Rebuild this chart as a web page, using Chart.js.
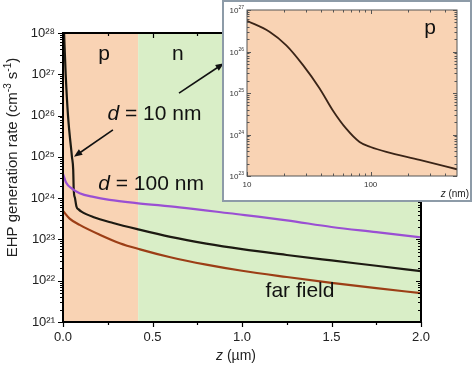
<!DOCTYPE html>
<html>
<head>
<meta charset="utf-8">
<script src="https://cdn.jsdelivr.net/npm/chart.js@4/dist/chart.umd.min.js"></script>
<style>
  html, body { margin: 0; padding: 0; background: #fff; }
  #wrap { position: relative; width: 474px; height: 365px; }
  #main { position: absolute; left: 0; top: 0; }
  #insetBox {
    position: absolute; left: 222px; top: 0; width: 246px; height: 198px;
    border: 2px solid #8d9ba8; background: #fff;
  }
  #inset { display: block; }
</style>
</head>
<body>
<div id="wrap">
  <canvas id="main" width="474" height="365"></canvas>
  <div id="insetBox"><canvas id="inset" width="246" height="198"></canvas></div>
</div>
<script>
/* ---------- data ---------- */
// main panel, z in µm, rate in cm^-3 s^-1
const zD10    = [0.006, 0.015, 0.028, 0.05, 0.057, 0.06, 0.067, 0.075, 0.09, 0.103, 0.168, 0.28, 0.42, 0.6, 0.8, 1.0, 1.25, 1.5, 1.75, 2.0];
const rateD10 = [1e28, 1e27, 1e26, 1e25, 4.9e24, 1.6e24, 1e24, 6.3e23, 5.2e23, 4.7e23, 3.5e23, 2.5e23, 1.75e23, 1.15e23, 7.9e22, 5.8e22, 4.2e22, 3.1e22, 2.3e22, 1.7e22];

const zD100    = [0, 0.017, 0.05, 0.093, 0.17, 0.26, 0.41, 0.65, 0.93, 1.25, 1.5, 1.75, 2.0];
const rateD100 = [3.9e24, 2.4e24, 1.7e24, 1.32e24, 1.07e24, 9.1e23, 7.6e23, 6.0e23, 4.3e23, 2.9e23, 2.0e23, 1.5e23, 1.12e23];

const zFar    = [0, 0.037, 0.093, 0.205, 0.317, 0.43, 0.6, 0.8, 1.0, 1.25, 1.5, 1.75, 2.0];
const rateFar = [4.9e23, 3.2e23, 2.25e23, 1.3e23, 8.1e22, 5.75e22, 3.7e22, 2.45e22, 1.74e22, 1.23e22, 8.9e21, 6.6e21, 5.0e21];

// p / n layers (µm)
const layerEdges = [0, 0.42, 2.0];
const layerNames = ['p', 'n'];

// axis ticks
const xTicks = [0, 0.5, 1.0, 1.5, 2.0];
const xMinor = [0.25, 0.75, 1.25, 1.75];
const yExp   = [21, 22, 23, 24, 25, 26, 27, 28];

// inset, z in nm (d = 10 nm)
const zInset    = [10, 15.2, 20.8, 28.4, 38.7, 49.5, 63.5, 81.4, 100, 134, 249, 500];
const rateInset = [5.5e26, 3.0e26, 1.41e26, 4.7e25, 1.29e25, 3.8e24, 1.38e24, 6.6e23, 5.0e23, 3.8e23, 2.45e23, 1.45e23];
const insetXTicks = [10, 100];
const insetXMinor = [20, 30, 40, 50, 60, 70, 80, 90, 200, 300, 400];
const insetYExp   = [23, 24, 25, 26, 27];

/* ---------- styles ---------- */
const FONT = "'Liberation Sans', Arial, sans-serif";
const PEACH = '#f9d3b4';
const GREEN = '#d9eec7';
const C_D10 = '#1d1a12';
const C_D100 = '#9a4fd3';
const C_FAR = '#9c3e16';
const C_INSET = '#3a2417';
const SUP = '⁰¹²³⁴⁵⁶⁷⁸⁹';

const pts = (xs, ys) => xs.map((v, i) => ({ x: v, y: ys[i] }));
const supNum = n => String(n).split('').map(c => SUP[+c]).join('');
const minorDecades = exps => {
  const out = [];
  for (let i = 0; i < exps.length - 1; i++)
    for (let k = 2; k <= 9; k++) out.push(k * Math.pow(10, exps[i]));
  return out;
};

function drawRich(ctx, parts, x, y, align) {
  let w = 0;
  parts.forEach(p => { ctx.font = p.font; w += ctx.measureText(p.text).width; });
  let cx = align === 'center' ? x - w / 2 : align === 'right' ? x - w : x;
  ctx.textAlign = 'left';
  ctx.textBaseline = 'alphabetic';
  parts.forEach(p => {
    ctx.font = p.font;
    ctx.fillText(p.text, cx, y + (p.dy || 0));
    cx += ctx.measureText(p.text).width;
  });
}

function arrow(ctx, x1, y1, x2, y2, head) {
  const a = Math.atan2(y2 - y1, x2 - x1);
  ctx.beginPath();
  ctx.moveTo(x1, y1);
  ctx.lineTo(x2 - Math.cos(a) * head * 0.8, y2 - Math.sin(a) * head * 0.8);
  ctx.stroke();
  ctx.beginPath();
  ctx.moveTo(x2, y2);
  ctx.lineTo(x2 - head * Math.cos(a - 0.38), y2 - head * Math.sin(a - 0.38));
  ctx.lineTo(x2 - head * Math.cos(a + 0.38), y2 - head * Math.sin(a + 0.38));
  ctx.closePath();
  ctx.fill();
}

/* ---------- plugins ---------- */
const regionsPlugin = {
  id: 'regions',
  beforeDatasetsDraw(chart, args, o) {
    const { ctx, chartArea: a, scales: { x } } = chart;
    ctx.save();
    o.edges.slice(0, -1).forEach((e, i) => {
      const x1 = x.getPixelForValue(e), x2 = x.getPixelForValue(o.edges[i + 1]);
      ctx.fillStyle = o.colors[i];
      ctx.fillRect(x1, a.top, x2 - x1, a.bottom - a.top);
    });
    ctx.restore();
  }
};

const framePlugin = {
  id: 'frame',
  afterDatasetsDraw(chart, args, o) {
    const { ctx, chartArea: a, scales: { x, y } } = chart;
    ctx.save();
    ctx.strokeStyle = o.color;
    ctx.lineWidth = o.tickWidth;
    const bd = o.outBottom ? 1 : -1, ld = o.outLeft ? -1 : 1;
    const xt = (v, len) => {
      const px = Math.round(x.getPixelForValue(v)) + 0.5;
      ctx.beginPath();
      ctx.moveTo(px, a.bottom); ctx.lineTo(px, a.bottom + bd * len);
      ctx.moveTo(px, a.top); ctx.lineTo(px, a.top + len);
      ctx.stroke();
    };
    const yt = (v, len) => {
      const py = Math.round(y.getPixelForValue(v)) + 0.5;
      ctx.beginPath();
      ctx.moveTo(a.left, py); ctx.lineTo(a.left + ld * len, py);
      ctx.moveTo(a.right, py); ctx.lineTo(a.right - len, py);
      ctx.stroke();
    };
    o.xMajor.forEach(v => xt(v, o.major));
    o.xMinor.forEach(v => xt(v, o.minor));
    o.yMajor.forEach(v => yt(v, o.major));
    o.yMinor.forEach(v => yt(v, o.minor));
    ctx.lineWidth = o.axisWidth;
    ctx.strokeRect(a.left, a.top, a.right - a.left, a.bottom - a.top);
    // optional hand-set log tick labels with small exponent
    if (o.yLabels) {
      ctx.fillStyle = o.yLabels.color;
      o.yMajor.forEach(v => {
        const e = Math.round(Math.log10(v));
        drawRich(ctx, [
          { text: '10', font: o.yLabels.font },
          { text: String(e), font: o.yLabels.supFont, dy: -o.yLabels.rise }
        ], a.left - o.yLabels.pad, y.getPixelForValue(v) + o.yLabels.drop, 'right');
      });
    }
    ctx.restore();
  }
};

const notesPlugin = {
  id: 'notes',
  afterDraw(chart, args, o) {
    const { ctx, chartArea: a, scales: { x, y } } = chart;
    ctx.save();
    ctx.fillStyle = '#111';
    ctx.strokeStyle = '#111';
    (o.texts || []).forEach(t => {
      drawRich(ctx, t.parts, x.getPixelForValue(t.x), y.getPixelForValue(t.y), 'center');
    });
    ctx.lineWidth = 1.6;
    (o.arrows || []).forEach(r => {
      arrow(ctx, x.getPixelForValue(r[0]), y.getPixelForValue(r[1]),
                 x.getPixelForValue(r[2]), y.getPixelForValue(r[3]), 9);
    });
    ctx.fillStyle = '#222';
    if (o.yTitle) {
      ctx.translate(o.yTitle.x, (a.top + a.bottom) / 2 + o.yTitle.dy);
      ctx.rotate(-Math.PI / 2);
      drawRich(ctx, o.yTitle.parts, 0, 0, 'center');
      ctx.setTransform(1, 0, 0, 1, 0, 0);
    }
    if (o.xTitle) {
      const xx = o.xTitle.align === 'right' ? a.right + o.xTitle.dx : (a.left + a.right) / 2 + o.xTitle.dx;
      drawRich(ctx, o.xTitle.parts, xx, a.bottom + o.xTitle.dy, o.xTitle.align || 'center');
    }
    ctx.restore();
  }
};

/* ---------- main chart ---------- */
const big = `21px ${FONT}`, bigI = `italic 21px ${FONT}`;
const lineStyle = (color) => ({
  borderColor: color, borderWidth: 2.2, pointRadius: 0, fill: false,
  cubicInterpolationMode: 'monotone'
});
const noGrid = { display: false, drawTicks: false, tickLength: 0 };

new Chart(document.getElementById('main'), {
  type: 'line',
  data: {
    datasets: [
      { label: 'd = 100 nm', data: pts(zD100, rateD100), ...lineStyle(C_D100) },
      { label: 'far field',  data: pts(zFar, rateFar),   ...lineStyle(C_FAR) },
      { label: 'd = 10 nm',  data: pts(zD10, rateD10),   ...lineStyle(C_D10) }
    ]
  },
  plugins: [regionsPlugin, framePlugin, notesPlugin],
  options: {
    responsive: false,
    animation: false,
    layout: { padding: { top: 33, right: 53, left: 0, bottom: 0 } },
    plugins: {
      legend: { display: false },
      tooltip: { enabled: false },
      regions: { edges: layerEdges, colors: [PEACH, GREEN] },
      frame: {
        color: '#000', axisWidth: 2, tickWidth: 1.2, major: 5, minor: 3,
        outBottom: true, outLeft: true,
        xMajor: xTicks, xMinor: xMinor,
        yMajor: yExp.map(e => Math.pow(10, e)), yMinor: minorDecades(yExp)
      },
      notes: {
        texts: [
          { x: (layerEdges[0] + layerEdges[1]) / 2 + 0.02, y: 2.2e27, parts: [{ text: layerNames[0], font: big }] },
          { x: 0.642, y: 2.2e27, parts: [{ text: layerNames[1], font: big }] },
          { x: 0.511, y: 7.8e25, parts: [{ text: 'd', font: bigI }, { text: ' = 10 nm', font: big }] },
          { x: 0.492, y: 1.6e24, parts: [{ text: 'd', font: bigI }, { text: ' = 100 nm', font: big }] },
          { x: 1.324, y: 4.1e21, parts: [{ text: 'far field', font: big }] }
        ],
        arrows: [
          [0.279, 4.5e25, 0.061, 1.0e25],
          [0.648, 3.5e26, 0.899, 1.85e27]
        ],
        yTitle: {
          x: 17, dy: -20,
          parts: [
            { text: 'EHP generation rate (cm', font: `15px ${FONT}` },
            { text: '-3', font: `10px ${FONT}`, dy: -6 },
            { text: ' s', font: `15px ${FONT}` },
            { text: '-1', font: `10px ${FONT}`, dy: -6 },
            { text: ')', font: `15px ${FONT}` }
          ]
        },
        xTitle: {
          dx: -6, dy: 38,
          parts: [{ text: 'z', font: `italic 14px ${FONT}` }, { text: ' (µm)', font: `14px ${FONT}` }]
        }
      }
    },
    scales: {
      x: {
        type: 'linear', min: 0, max: 2,
        afterBuildTicks: s => { s.ticks = xTicks.map(v => ({ value: v })); },
        afterFit: s => { s.height = 43; },
        ticks: { callback: v => v.toFixed(1), font: { family: FONT, size: 13 }, color: '#222', padding: 8, maxRotation: 0, autoSkip: false },
        grid: noGrid,
        border: { display: false }
      },
      y: {
        type: 'logarithmic', min: 1e21, max: 1e28,
        afterBuildTicks: s => { s.ticks = yExp.map(e => ({ value: Math.pow(10, e) })); },
        afterFit: s => { s.width = 63; },
        ticks: {
          callback: v => '10' + supNum(Math.round(Math.log10(v))),
          font: { family: FONT, size: 13 }, color: '#222', padding: 8, autoSkip: false
        },
        grid: noGrid,
        border: { display: false }
      }
    }
  }
});

/* ---------- inset ---------- */
new Chart(document.getElementById('inset'), {
  type: 'line',
  data: {
    datasets: [
      { label: 'd = 10 nm', data: pts(zInset, rateInset), ...lineStyle(C_INSET), borderWidth: 1.8 }
    ]
  },
  plugins: [regionsPlugin, framePlugin, notesPlugin],
  options: {
    responsive: false,
    animation: false,
    layout: { padding: { top: 8, right: 13, left: 0, bottom: 0 } },
    plugins: {
      legend: { display: false },
      tooltip: { enabled: false },
      regions: { edges: [10, 500], colors: [PEACH] },
      frame: {
        color: '#555', axisWidth: 1, tickWidth: 1, major: 4, minor: 2.5,
        outBottom: false, outLeft: false,
        xMajor: insetXTicks, xMinor: insetXMinor,
        yMajor: insetYExp.map(e => Math.pow(10, e)), yMinor: minorDecades(insetYExp),
        yLabels: { font: `8px ${FONT}`, supFont: `5px ${FONT}`, rise: 4, pad: 3, drop: 3, color: '#333' }
      },
      notes: {
        texts: [
          { x: 303, y: 2.6e26, parts: [{ text: layerNames[0], font: big }] }
        ],
        xTitle: {
          align: 'right', dx: 12, dy: 21,
          parts: [{ text: 'z', font: `italic 10px ${FONT}` }, { text: ' (nm)', font: `10px ${FONT}` }]
        }
      }
    },
    scales: {
      x: {
        type: 'logarithmic', min: 10, max: 500,
        afterBuildTicks: s => { s.ticks = insetXTicks.map(v => ({ value: v })); },
        afterFit: s => { s.height = 198 - 174; },
        ticks: { callback: v => String(v), font: { family: FONT, size: 8 }, color: '#333', padding: 4, maxRotation: 0, autoSkip: false },
        grid: noGrid,
        border: { display: false }
      },
      y: {
        type: 'logarithmic', min: 1e23, max: 1e27,
        afterBuildTicks: s => { s.ticks = insetYExp.map(e => ({ value: Math.pow(10, e) })); },
        afterFit: s => { s.width = 23; },
        ticks: { display: false },
        grid: noGrid,
        border: { display: false }
      }
    }
  }
});
</script>
</body>
</html>
